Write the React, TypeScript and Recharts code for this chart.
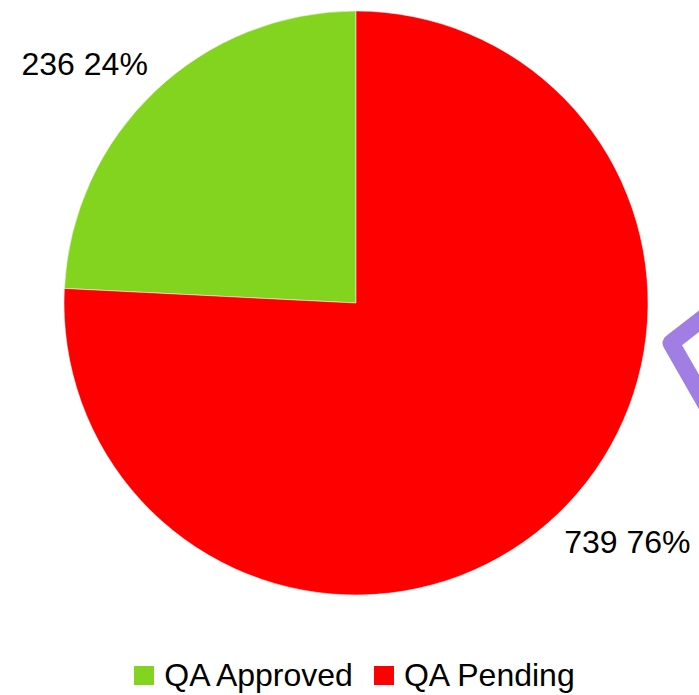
import React from 'react';
import { PieChart, Pie, Cell, Legend } from 'recharts';

const categories = ['QA Approved', 'QA Pending'];
const counts = [236, 739];
const sliceColors = ['#82d41e', '#ff0000'];

const data = categories.map((name, i) => ({ name, value: counts[i] }));

const FONT = '"Liberation Sans", Arial, sans-serif';
const RAD = Math.PI / 180;

const renderLabel = ({ cx, cy, midAngle, outerRadius, value, percent }: any) => {
  const cos = Math.cos(-midAngle * RAD);
  const sin = Math.sin(-midAngle * RAD);
  const x = cx + (outerRadius + 10) * cos;
  const y = cy + (outerRadius + 38) * sin;
  return (
    <text
      x={x}
      y={y}
      textAnchor={x > cx ? 'start' : 'end'}
      dominantBaseline="central"
      fill="#000"
      fontSize={32}
      fontFamily={FONT}
    >
      {`${value} ${Math.round(percent * 100)}%`}
    </text>
  );
};

const LegendContent = () => (
  <div style={{ display: 'flex', justifyContent: 'center', alignItems: 'center', fontFamily: FONT, fontSize: 32, paddingLeft: 10 }}>
    {categories.map((c, i) => (
      <div key={c} style={{ display: 'flex', alignItems: 'center', marginRight: i === 0 ? 21 : 0 }}>
        <span style={{ width: 20, height: 19, background: sliceColors[i], display: 'inline-block', marginRight: 10 }} />
        <span style={{ color: '#000' }}>{c}</span>
      </div>
    ))}
  </div>
);

export default function App() {
  return (
    <div style={{ position: 'absolute', left: 0, top: 0, width: 699, height: 695, background: '#fff', overflow: 'hidden' }}>
      <PieChart width={699} height={695} margin={{ top: 0, right: 0, bottom: 0, left: 0 }}>
        <Pie
          data={data}
          dataKey="value"
          nameKey="name"
          cx={356}
          cy={303}
          outerRadius={292}
          startAngle={90}
          endAngle={450}
          stroke="#fff"
          strokeWidth={0.5}
          label={renderLabel}
          labelLine={false}
          isAnimationActive={false}
        >
          {data.map((d, i) => (
            <Cell key={d.name} fill={sliceColors[i]} />
          ))}
        </Pie>
        <Legend
          content={<LegendContent />}
          verticalAlign="bottom"
          wrapperStyle={{ position: 'absolute', left: 0, top: 657, width: 699 }}
        />
      </PieChart>
      {/* purple chevron cut off at the right edge */}
      <svg width={699} height={695} style={{ position: 'absolute', left: 0, top: 0, pointerEvents: 'none' }}>
        <polyline
          points="720,305 671,343 715,420"
          fill="none"
          stroke="#a07ee4"
          strokeWidth={17}
          strokeLinejoin="round"
        />
      </svg>
    </div>
  );
}
